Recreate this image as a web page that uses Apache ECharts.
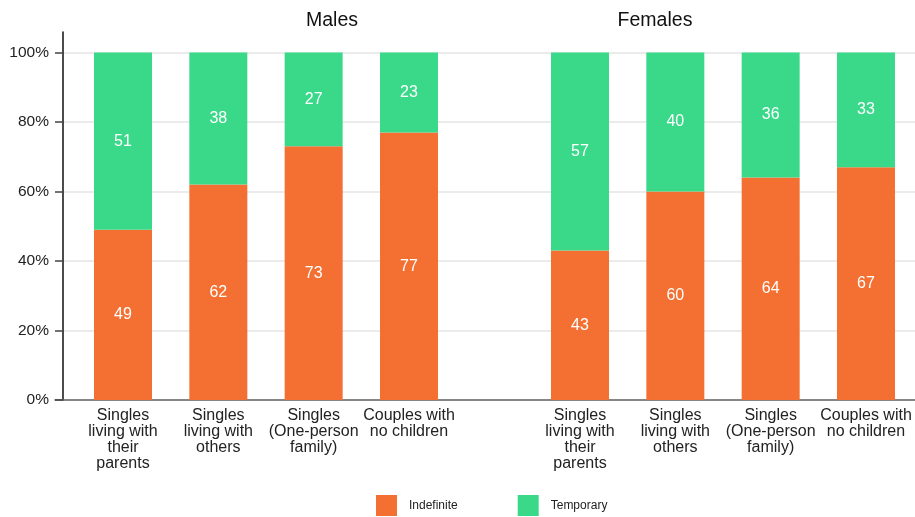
<!DOCTYPE html>
<html>
<head>
<meta charset="utf-8">
<script src="https://cdn.jsdelivr.net/npm/echarts@6/dist/echarts.min.js"></script>
<style>html,body{margin:0;padding:0;background:#fff;}#c{width:915px;height:517px;}</style>
</head>
<body>
<div id="c"></div>
<script>
var categories = ['Singles\nliving with\ntheir\nparents', 'Singles\nliving with\nothers', 'Singles\n(One-person\nfamily)', 'Couples with\nno children'];
var groupTitles = ['Males', 'Females'];
var seriesNames = ['Indefinite', 'Temporary'];
var malesIndefinite = [49, 62, 73, 77];
var malesTemporary = [51, 38, 27, 23];
var femalesIndefinite = [43, 60, 64, 67];
var femalesTemporary = [57, 40, 36, 33];
var yTicks = [0, 20, 40, 60, 80, 100];

var FONT = 'Liberation Sans, Arial, sans-serif';
var ORANGE = '#F37032';
var GREEN = '#3AD98A';

var chart = echarts.init(document.getElementById('c'), null, {renderer: 'canvas'});

function barLabel() {
  return {show: true, position: 'inside', color: '#fff', fontSize: 16, fontFamily: FONT};
}

var option = {
  backgroundColor: '#fff',
  animation: false,
  title: [
    {text: groupTitles[0], left: 327, top: 6, textAlign: 'center', textStyle: {fontSize: 19.5, fontWeight: 'normal', color: '#111', fontFamily: FONT}},
    {text: groupTitles[1], left: 650, top: 6, textAlign: 'center', textStyle: {fontSize: 19.5, fontWeight: 'normal', color: '#111', fontFamily: FONT}}
  ],
  legend: {
    left: 376, top: 495, padding: 0,
    itemWidth: 21, itemHeight: 21, itemGap: 60,
    icon: 'rect',
    data: seriesNames,
    textStyle: {fontSize: 12, color: '#222', fontFamily: FONT, padding: [0, 0, 0, 7]}
  },
  grid: [
    {left: 55, right: 0, top: 32, bottom: 117},
    {left: 63, right: 0, top: 52.5, bottom: 117},
    {left: 75.33, width: 381.33, top: 52.5, bottom: 117},
    {left: 532.33, width: 381.33, top: 52.5, bottom: 117}
  ],
  xAxis: [
    {gridIndex: 0, type: 'value', min: 0, max: 1, axisLine: {show: true, lineStyle: {color: '#666', width: 1.5}}, axisTick: {show: false}, axisLabel: {show: false}, splitLine: {show: false}},
    {gridIndex: 1, type: 'value', min: 0, max: 1, show: false},
    {gridIndex: 2, type: 'category', data: categories, axisLine: {show: false}, axisTick: {show: false},
      axisLabel: {interval: 0, fontSize: 16, lineHeight: 16, color: '#222', margin: 8, fontFamily: FONT}},
    {gridIndex: 3, type: 'category', data: categories, axisLine: {show: false}, axisTick: {show: false},
      axisLabel: {interval: 0, fontSize: 16, lineHeight: 16, color: '#222', margin: 8, fontFamily: FONT}}
  ],
  yAxis: [
    {gridIndex: 0, type: 'value', min: 0, max: 1, offset: -8, axisLine: {show: true, lineStyle: {color: '#111', width: 1.5}}, axisTick: {show: false}, axisLabel: {show: false}, splitLine: {show: false}},
    {gridIndex: 1, type: 'value', min: yTicks[0], max: yTicks[yTicks.length - 1], interval: yTicks[1] - yTicks[0],
      axisLine: {show: false},
      axisTick: {show: true, length: 8, lineStyle: {color: '#444', width: 1.5}},
      axisLabel: {formatter: '{value}%', fontSize: 15.5, color: '#222', margin: 14, fontFamily: FONT},
      splitLine: {show: true, lineStyle: {color: '#e4e4e4', width: 1.5}}},
    {gridIndex: 2, type: 'value', min: 0, max: 100, show: false},
    {gridIndex: 3, type: 'value', min: 0, max: 100, show: false}
  ],
  series: [
    {name: seriesNames[0], type: 'bar', xAxisIndex: 2, yAxisIndex: 2, stack: 'm', barWidth: 58, data: malesIndefinite, itemStyle: {color: ORANGE}, label: barLabel()},
    {name: seriesNames[1], type: 'bar', xAxisIndex: 2, yAxisIndex: 2, stack: 'm', barWidth: 58, data: malesTemporary, itemStyle: {color: GREEN}, label: barLabel()},
    {name: seriesNames[0], type: 'bar', xAxisIndex: 3, yAxisIndex: 3, stack: 'f', barWidth: 58, data: femalesIndefinite, itemStyle: {color: ORANGE}, label: barLabel()},
    {name: seriesNames[1], type: 'bar', xAxisIndex: 3, yAxisIndex: 3, stack: 'f', barWidth: 58, data: femalesTemporary, itemStyle: {color: GREEN}, label: barLabel()}
  ]
};
chart.setOption(option);
</script>
</body>
</html>
